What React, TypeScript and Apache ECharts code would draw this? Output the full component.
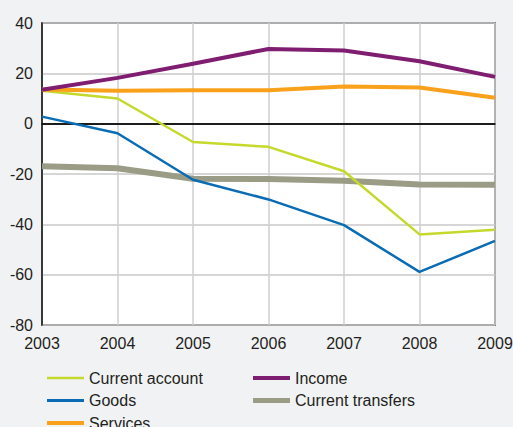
import React, { useEffect, useRef } from "react";
import * as echarts from "echarts";

const years = ["2003", "2004", "2005", "2006", "2007", "2008", "2009"];
const currentAccount = [13.1, 10.0, -7.3, -9.2, -18.9, -44.0, -42.2];
const goods = [2.8, -3.8, -22.3, -30.1, -40.3, -58.9, -46.6];
const services = [13.6, 13.1, 13.3, 13.3, 14.8, 14.4, 10.3];
const income = [13.5, 18.2, 23.8, 29.7, 29.1, 24.8, 18.6];
const currentTransfers = [-16.9, -17.7, -21.9, -22.0, -22.7, -24.2, -24.3];

const FONT = "'Liberation Sans', Arial, sans-serif";
const TEXT = "#231f20";
const FS = 16;

const bar = (h: number) => `path://M0,0 L37,0 L37,${h} L0,${h} Z`;

export default function App() {
  const ref = useRef<HTMLDivElement>(null);
  useEffect(() => {
    document.body.style.margin = "0";
    const chart = echarts.init(ref.current!, null, { renderer: "svg" });
    const mk = (name: string, data: number[], color: string, width: number, z: number, extra: any = {}) => ({
      name,
      type: "line",
      data,
      symbol: "none",
      z,
      lineStyle: { color, width, cap: "butt", join: "round" },
      itemStyle: { color },
      ...extra,
    });
    const legendBase = {
      orient: "vertical",
      top: 365,
      height: 100,
      itemWidth: 37,
      itemHeight: 16,
      itemGap: 6.5,
      textStyle: { color: TEXT, fontSize: FS, fontFamily: FONT, lineHeight: 16 },
      selectedMode: false,
    };
    chart.setOption({
      animation: false,
      backgroundColor: "#f1f2f4",
      textStyle: { fontFamily: FONT },
      grid: {
        left: 42,
        right: 18,
        top: 23,
        bottom: 102,
        outerBoundsMode: "none",
        containLabel: false,
        show: true,
        backgroundColor: "#ffffff",
        borderColor: "#2a2a2a",
        borderWidth: 1.5,
      },
      xAxis: {
        type: "category",
        data: years,
        boundaryGap: false,
        axisLine: { show: true, lineStyle: { color: "#111", width: 1.5 } },
        axisTick: { show: false },
        axisLabel: { color: TEXT, fontSize: FS, fontFamily: FONT, margin: 10 },
        splitLine: { show: true, lineStyle: { color: "#cfcfcf", width: 1.5 } },
      },
      yAxis: {
        type: "value",
        min: -80,
        max: 40,
        interval: 20,
        axisLine: { show: true, lineStyle: { color: "#111", width: 1.5 } },
        axisTick: { show: false },
        axisLabel: { color: TEXT, fontSize: FS, fontFamily: FONT, margin: 9 },
        splitLine: { show: true, lineStyle: { color: "#c8c8c8", width: 1.5 } },
      },
      legend: [
        {
          ...legendBase,
          left: 42,
          data: [
            { name: "Current account", icon: bar(2.5) },
            { name: "Goods", icon: bar(3) },
            { name: "Services", icon: bar(4) },
          ],
        },
        {
          ...legendBase,
          left: 248,
          data: [
            { name: "Income", icon: bar(4) },
            { name: "Current transfers", icon: bar(5) },
          ],
        },
      ],
      series: [
        mk("Current transfers", currentTransfers, "#9a9c85", 6, 2),
        mk("Current account", currentAccount, "#c5d92d", 2.5, 3, {
          markLine: {
            silent: true,
            symbol: "none",
            label: { show: false },
            lineStyle: { color: "#111", width: 1.5, type: "solid" },
            data: [{ yAxis: 0 }],
            z: 1,
          },
        }),
        mk("Goods", goods, "#0a6cb5", 2.5, 4),
        mk("Services", services, "#f9a11b", 4, 5),
        mk("Income", income, "#7f1d71", 4, 6),
      ],
    });
    return () => chart.dispose();
  }, []);
  return <div ref={ref} style={{ width: 513, height: 427 }} />;
}
